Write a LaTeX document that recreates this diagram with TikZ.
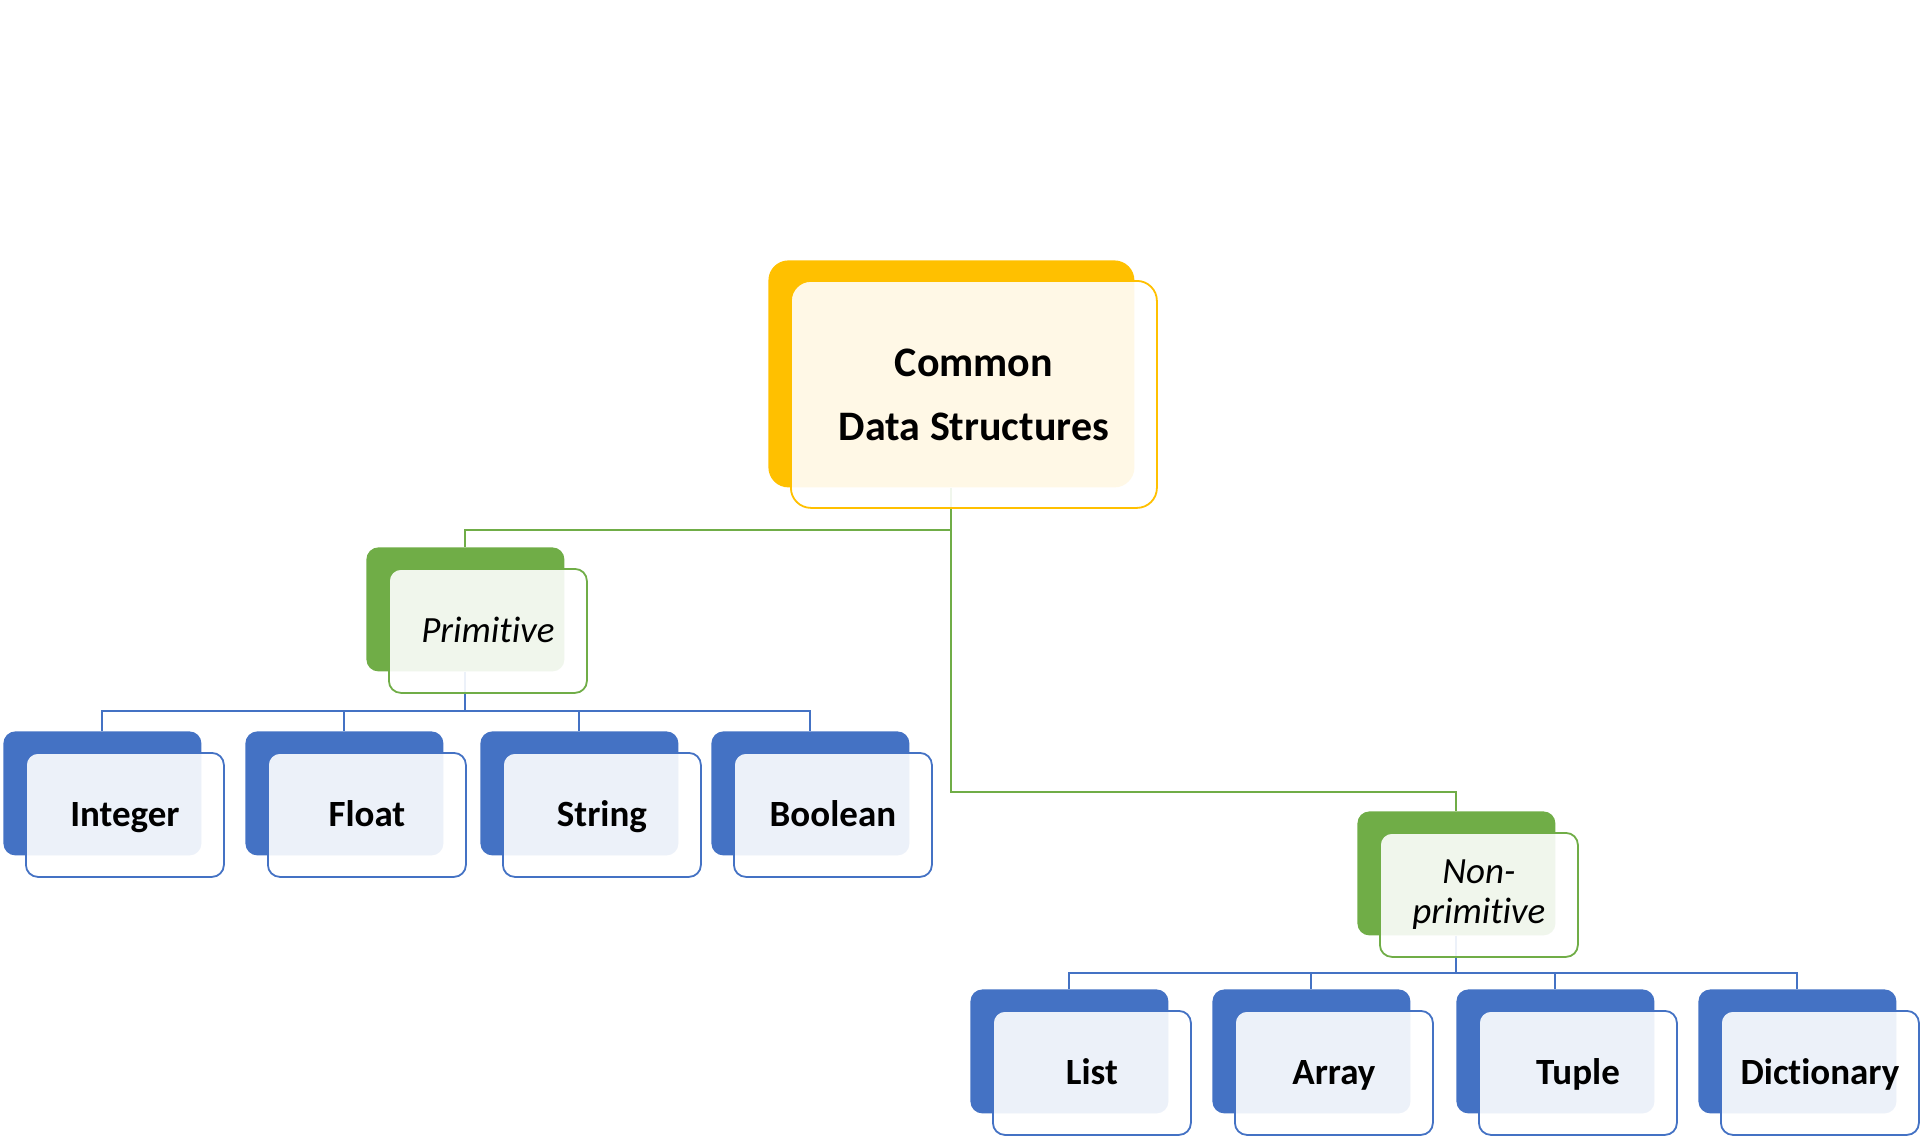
\documentclass[tikz,border=0pt]{standalone}
\usepackage{fontspec}
\setmainfont[Ligatures=NoCommon]{Carlito}
\usetikzlibrary{backgrounds}
\definecolor{cy}{HTML}{FFC000}
\definecolor{cg}{HTML}{70AD47}
\definecolor{cb}{HTML}{4472C4}
\begin{document}
\begin{tikzpicture}[x=0.5pt,y=-0.5pt,
  box/.style={rectangle, rounded corners=6pt, inner sep=0pt, anchor=north west,
    minimum width=99pt, minimum height=62pt},
  bigbox/.style={box, minimum width=183pt, minimum height=113.5pt, rounded corners=10pt},
  backfill/.style={fill=#1},
  frontbox/.style={draw=#1, line width=0.9pt, fill=white, fill opacity=0.9,
    text opacity=1, align=center},
  lbl/.style={font=\fontsize{18.5}{22}\selectfont\bfseries, text height=15pt, text depth=3pt},
  ilbl/.style={font=\fontsize{18.5}{20}\selectfont\itshape},
  plbl/.style={ilbl, text height=15pt, text depth=3pt},
  rlbl/.style={font=\fontsize{21}{32}\selectfont\bfseries},
  gline/.style={draw=cg, line width=1pt},
  bline/.style={draw=cb, line width=1pt}
]
\useasboundingbox (0,0) rectangle (1920,1135);

% ---------- root ----------
\node[bigbox, backfill=cy] (rootB) at (768,260) {};
\node[bigbox, frontbox=cy, rlbl] (root) at (790,280) {Common\\Data Structures};

% ---------- level 1 ----------
\node[box, backfill=cg] (primB) at (366,547) {};
\node[box, frontbox=cg, plbl] (prim) at (388,568) {Primitive};
\node[box, backfill=cg] (nonpB) at (1357,811) {};
\node[box, frontbox=cg, ilbl] (nonp) at (1379,832) {Non-\\primitive};

% ---------- primitive children ----------
\node[box, backfill=cb] (intB) at (3,731) {};
\node[box, frontbox=cb, lbl] (int) at (25,752) {Integer};
\node[box, backfill=cb] (floatB) at (245,731) {};
\node[box, frontbox=cb, lbl] (float) at (267,752) {Float};
\node[box, backfill=cb] (strB) at (480,731) {};
\node[box, frontbox=cb, lbl] (str) at (502,752) {String};
\node[box, backfill=cb] (boolB) at (711,731) {};
\node[box, frontbox=cb, lbl] (bool) at (733,752) {Boolean};

% ---------- non-primitive children ----------
\node[box, backfill=cb] (listB) at (970,989) {};
\node[box, frontbox=cb, lbl] (list) at (992,1010) {List};
\node[box, backfill=cb] (arrB) at (1212,989) {};
\node[box, frontbox=cb, lbl] (arr) at (1234,1010) {Array};
\node[box, backfill=cb] (tupB) at (1456,989) {};
\node[box, frontbox=cb, lbl] (tup) at (1478,1010) {Tuple};
\node[box, backfill=cb] (dictB) at (1698,989) {};
\node[box, frontbox=cb, lbl] (dict) at (1720,1010) {Dictionary};

% ---------- connectors ----------
\begin{pgfonlayer}{background}
\draw[gline] (rootB.south) -- ++(0,42) -| (primB.north);
\draw[gline] (rootB.south) -- ++(0,304) -| (nonpB.north);
\foreach \c in {intB,floatB,strB,boolB}
  \draw[bline] (primB.south) -- ++(0,39) -| (\c.north);
\foreach \c in {listB,arrB,tupB,dictB}
  \draw[bline] (nonpB.south) -- ++(0,37) -| (\c.north);
\end{pgfonlayer}
\end{tikzpicture}
\end{document}
